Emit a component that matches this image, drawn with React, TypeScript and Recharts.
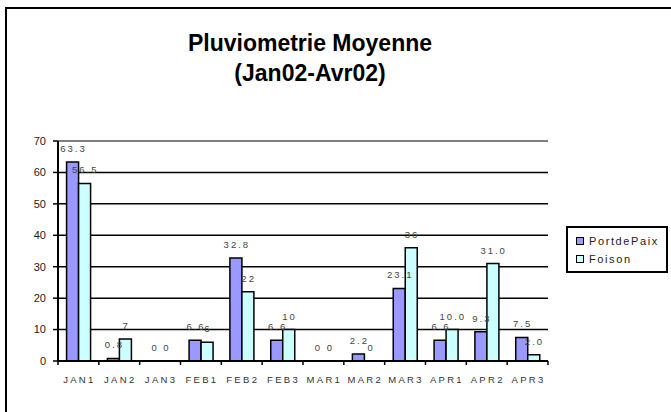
import React from 'react'
import { ComposedChart, Bar, Line, XAxis, YAxis, CartesianGrid, Legend, LabelList, ReferenceLine } from 'recharts'

const categories = ['JAN1', 'JAN2', 'JAN3', 'FEB1', 'FEB2', 'FEB3', 'MAR1', 'MAR2', 'MAR3', 'APR1', 'APR2', 'APR3']
const portdePaix = [63.3, 0.8, 0, 6.6, 32.8, 6.6, 0, 2.2, 23.1, 6.6, 9.3, 7.5]
const foison = [56.5, 7, 0, 6, 22, 10, 0, 0, 36, 10.0, 31.0, 2.0]
const portdePaixLabels = ['63.3', '0.8', '0', '6.6', '32.8', '6.6', '0', '2.2', '23.1', '6.6', '9.3', '7.5']
const foisonLabels = ['56.5', '7', '0', '6', '22', '10', '0', '0', '36', '10.0', '31.0', '2.0']
const yTicks = [0, 10, 20, 30, 40, 50, 60, 70]

const data = categories.map((name, i) => ({
  name,
  PortdePaix: portdePaix[i],
  Foison: foison[i],
  pLabel: portdePaixLabels[i],
  fLabel: foisonLabels[i],
}))

const font = '"Liberation Sans", Arial, sans-serif'
const AXIS_Y = 361
const PLOT_W = 490

function XTick(props: any) {
  const { x, payload, index } = props
  const bw = PLOT_W / categories.length
  const left = x - bw / 2
  return (
    <g>
      <line x1={left} y1={AXIS_Y} x2={left} y2={AXIS_Y + 4} stroke="#000" strokeWidth={1.5} />
      {index === categories.length - 1 && (
        <line x1={x + bw / 2} y1={AXIS_Y} x2={x + bw / 2} y2={AXIS_Y + 4} stroke="#000" strokeWidth={1.5} />
      )}
      <text x={x + 1} y={AXIS_Y + 22} textAnchor="middle" fontSize={9.5} fill="#333" fontFamily={font} letterSpacing={2.3}>
        {payload.value}
      </text>
    </g>
  )
}

// value labels drawn above each bar (shifted from category centre to bar centre)
const makeLabel = (dx: number, labels: string[]) => (props: any) => {
  const { x, y, index } = props
  return (
    <text x={x + dx + 1} y={y - 10} textAnchor="middle" fontSize={9.5} fill="#444" fontFamily={font} letterSpacing={2}>
      {labels[index]}
    </text>
  )
}

function LegendBox() {
  const items = [
    { label: 'PortdePaix', color: '#9999ff' },
    { label: 'Foison', color: '#ccffff' },
  ]
  return (
    <div style={{ border: '2px solid #000', padding: '4px 4px 3px 8px', background: '#fff', fontFamily: font }}>
      {items.map((it) => (
        <div key={it.label} style={{ display: 'flex', alignItems: 'center', height: 18 }}>
          <span style={{ width: 6, height: 6, background: it.color, border: '1.5px solid #000', marginRight: 5 }} />
          <span style={{ fontSize: 11, letterSpacing: 1.6, color: '#222' }}>{it.label}</span>
        </div>
      ))}
    </div>
  )
}

export default function App() {
  return (
    <div style={{ position: 'absolute', left: 0, top: 0, width: 671, height: 412, overflow: 'hidden', background: '#fff' }}>
      <div style={{ position: 'absolute', left: 5, top: 7, width: 700, height: 450, border: '2px solid #000' }} />
      <div style={{ position: 'absolute', left: 0, top: 28, width: 620, textAlign: 'center', fontFamily: font, fontWeight: 'bold', fontSize: 23, lineHeight: '30px', color: '#000' }}>
        Pluviometrie Moyenne
        <br />
        (Jan02-Avr02)
      </div>
      <div style={{ position: 'absolute', left: 0, top: 0 }}>
        <ComposedChart
          width={671}
          height={412}
          data={data}
          margin={{ top: 141, right: 123, left: 28, bottom: 21 }}
          barGap={0}
          barCategoryGap="21%"
        >
          <CartesianGrid vertical={false} stroke="#000" strokeWidth={1.5} horizontalValues={[10, 20, 30, 40, 50, 60]} />
          <ReferenceLine y={70} stroke="#808080" strokeWidth={2} />
          <XAxis
            dataKey="name"
            height={30}
            axisLine={{ stroke: '#000', strokeWidth: 2 }}
            tickLine={false}
            tick={<XTick />}
            interval={0}
          />
          <YAxis
            width={30}
            domain={[0, 70]}
            ticks={yTicks}
            interval={0}
            axisLine={{ stroke: '#000', strokeWidth: 2 }}
            tickLine={{ stroke: '#000', strokeWidth: 1.5 }}
            tickSize={5}
            tickMargin={7}
            tick={{ fontSize: 11, fill: '#222', fontFamily: font }}
          />
          <YAxis
            yAxisId="right"
            orientation="right"
            width={0}
            domain={[0, 70]}
            axisLine={{ stroke: '#808080', strokeWidth: 2 }}
            tick={false}
            tickLine={false}
          />
          <Legend
            layout="vertical"
            align="center"
            verticalAlign="middle"
            wrapperStyle={{ left: 566, top: 226, width: 102 }}
            content={() => <LegendBox />}
          />
          <Bar dataKey="PortdePaix" fill="#9999ff" stroke="#000" strokeWidth={1.5} isAnimationActive={false} />
          <Bar dataKey="Foison" fill="#ccffff" stroke="#000" strokeWidth={1.5} isAnimationActive={false} />
          <Line dataKey="PortdePaix" stroke="none" dot={false} activeDot={false} legendType="none" isAnimationActive={false}>
            <LabelList dataKey="pLabel" content={makeLabel(-5.9, portdePaixLabels)} />
          </Line>
          <Line dataKey="Foison" stroke="none" dot={false} activeDot={false} legendType="none" isAnimationActive={false}>
            <LabelList dataKey="fLabel" content={makeLabel(5.9, foisonLabels)} />
          </Line>
        </ComposedChart>
      </div>
    </div>
  )
}
